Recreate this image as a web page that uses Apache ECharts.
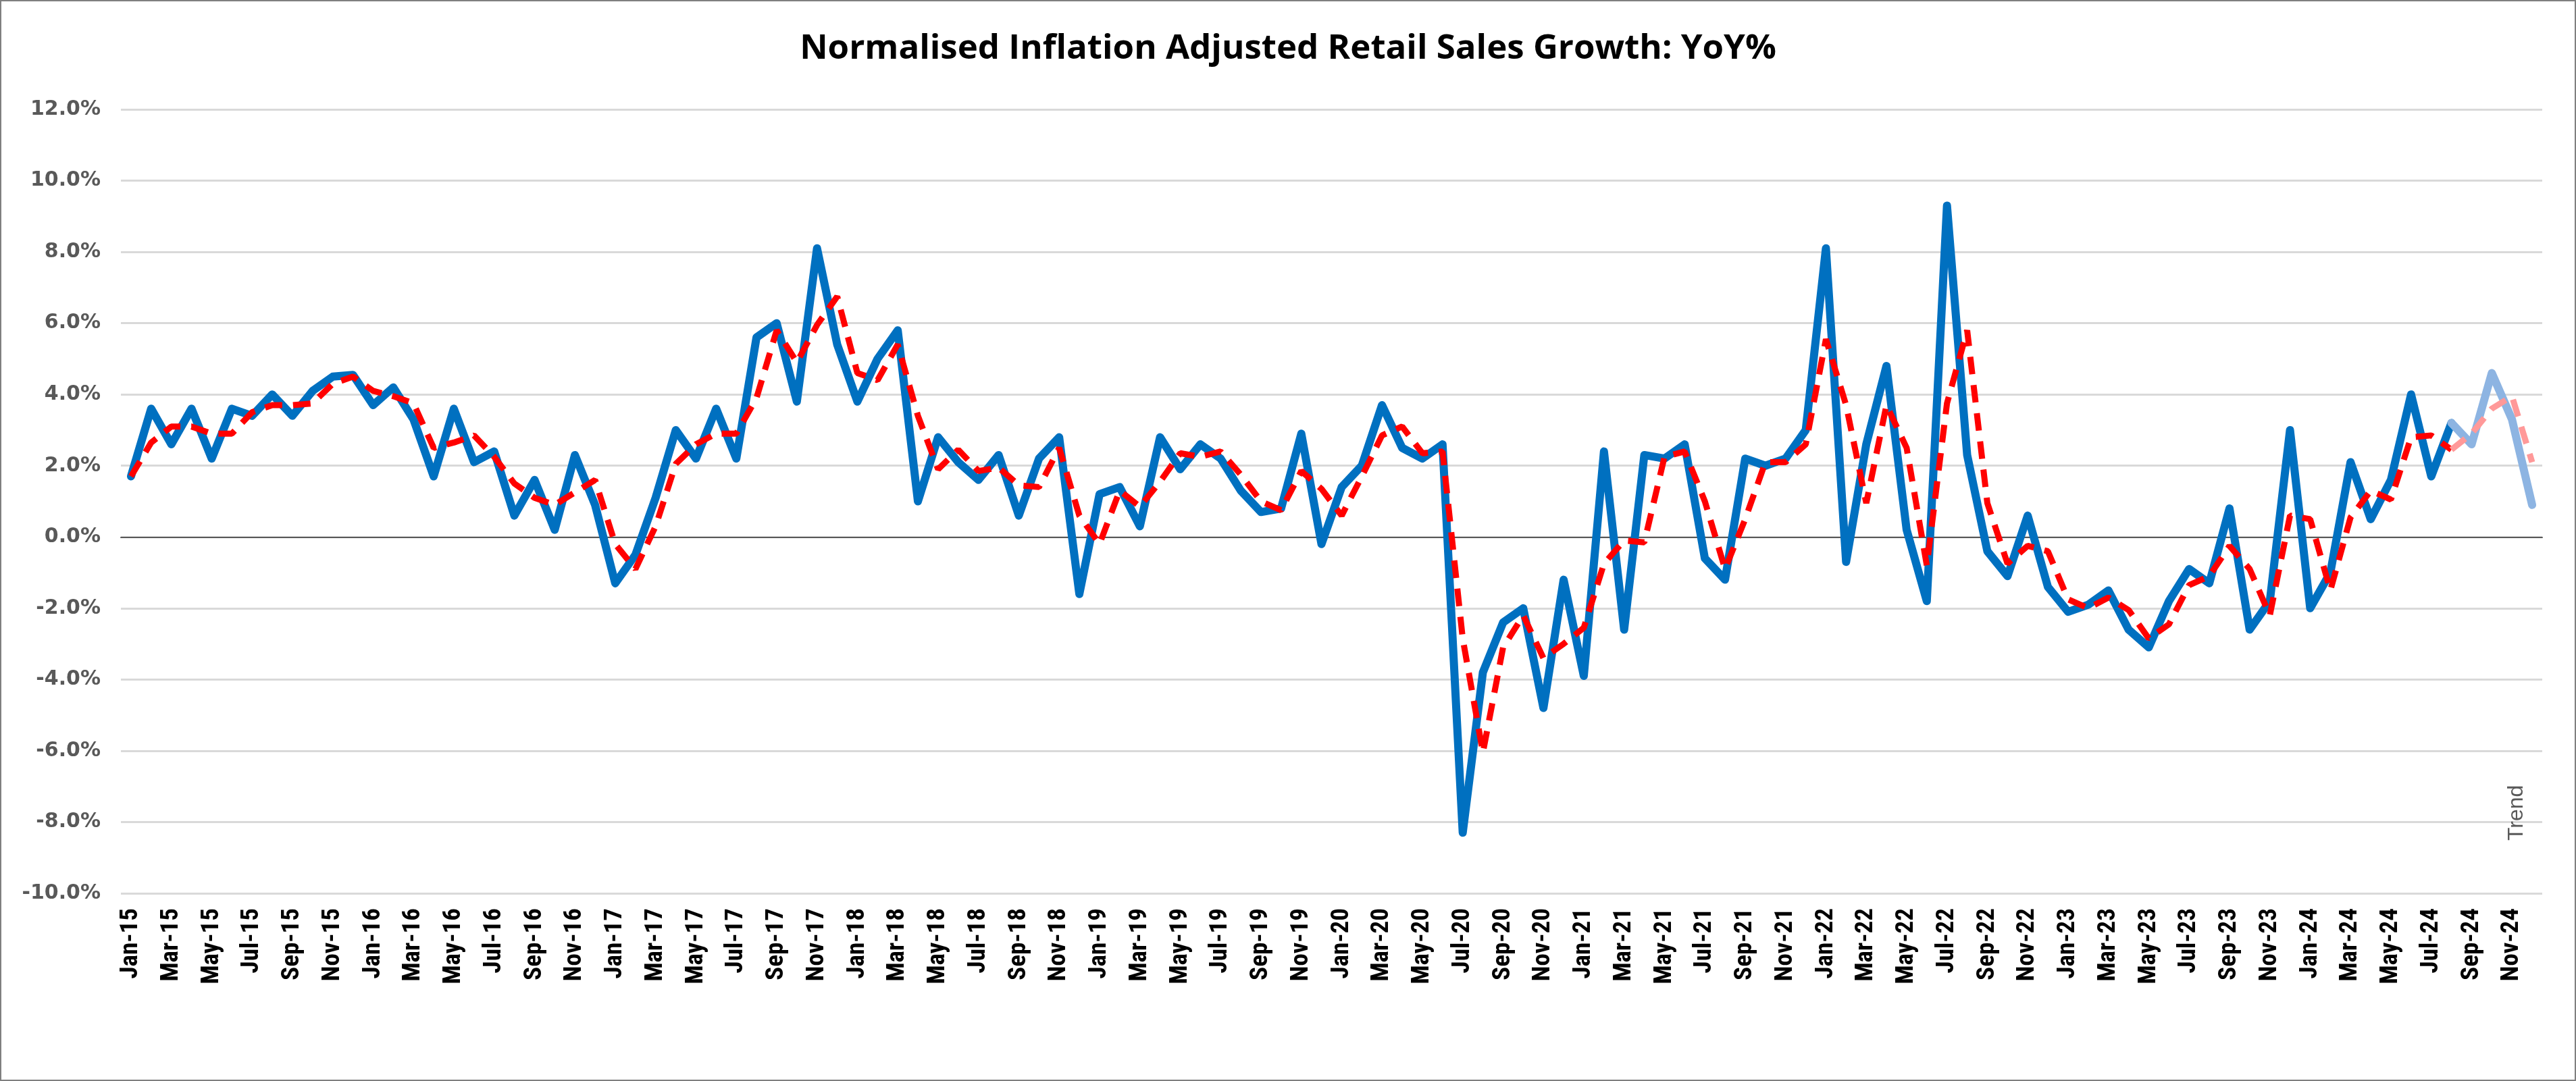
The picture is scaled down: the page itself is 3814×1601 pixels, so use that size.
<!DOCTYPE html>
<html><head><meta charset="utf-8">
<script src="https://cdn.jsdelivr.net/npm/echarts@6/dist/echarts.min.js"></script>
<style>html,body{margin:0;padding:0;background:#fff}#c{width:3814px;height:1601px;box-sizing:border-box;border:2px solid #7f7f7f}</style>
</head><body><div id="c"></div>
<script>
const months = ['Jan','Feb','Mar','Apr','May','Jun','Jul','Aug','Sep','Oct','Nov','Dec'];
const years = ['15','16','17','18','19','20','21','22','23','24'];
const categories = [];
years.forEach(y => months.forEach(m => categories.push(m + '-' + y)));

const sales = [
 1.7,3.6,2.6,3.6,2.2,3.6,3.4,4.0,3.4,4.1,4.5,4.55,
 3.7,4.2,3.3,1.7,3.6,2.1,2.4,0.6,1.6,0.2,2.3,0.9,
 -1.3,-0.5,1.1,3.0,2.2,3.6,2.2,5.6,6.0,3.8,8.1,5.4,
 3.8,5.0,5.8,1.0,2.8,2.1,1.6,2.3,0.6,2.2,2.8,-1.6,
 1.2,1.4,0.3,2.8,1.9,2.6,2.2,1.3,0.7,0.8,2.9,-0.2,
 1.4,2.0,3.7,2.5,2.2,2.6,-8.3,-3.8,-2.4,-2.0,-4.8,-1.2,
 -3.9,2.4,-2.6,2.3,2.2,2.6,-0.6,-1.2,2.2,2.0,2.2,3.0,
 8.1,-0.7,2.6,4.8,0.2,-1.8,9.3,2.3,-0.4,-1.1,0.6,-1.4,
 -2.1,-1.9,-1.5,-2.6,-3.1,-1.8,-0.9,-1.3,0.8,-2.6,-1.8,3.0,
 -2.0,-1.0,2.1,0.5,1.6,4.0,1.7,3.2,2.6,4.6,3.3,0.9
];
const trend = [
 1.7,2.65,3.1,3.1,2.9,2.9,3.5,3.7,3.7,3.75,4.3,4.5,
 4.1,3.95,3.75,2.5,2.65,2.85,2.25,1.5,1.1,0.9,1.25,1.6,
 -0.2,-0.9,0.3,2.05,2.6,2.9,2.9,3.9,5.8,4.9,5.95,6.75,
 4.6,4.4,5.4,3.4,1.9,2.45,1.85,1.95,1.45,1.4,2.5,0.6,
 -0.2,1.3,0.85,1.55,2.35,2.25,2.4,1.75,1.0,0.75,1.85,1.35,
 0.6,1.7,2.85,3.1,2.35,2.4,-2.85,-6.05,-3.1,-2.2,-3.4,-3.0,
 -2.55,-0.75,-0.1,-0.15,2.25,2.4,1.0,-0.9,0.5,2.1,2.1,2.6,
 5.55,3.7,0.95,3.7,2.5,-0.8,3.75,5.8,0.95,-0.75,-0.25,-0.4,
 -1.75,-2.0,-1.7,-2.05,-2.85,-2.45,-1.35,-1.1,-0.25,-0.9,-2.2,0.6,
 0.5,-1.5,0.55,1.3,1.05,2.8,2.85,2.45,2.9,3.6,3.95,2.1
];
const splitIndex = 115; // Aug-24: provisional segment starts here
const yTicks = {min: -10, max: 12, interval: 2};

const head = a => a.map((v,i) => i <= splitIndex ? v : null);
const tail = a => a.map((v,i) => i >= splitIndex ? v : null);

const chart = echarts.init(document.getElementById('c'));
chart.setOption({
  animation: false,
  title: {text: 'Normalised Inflation Adjusted Retail Sales Growth: YoY%', left: 'center', top: 40,
    textStyle: {fontFamily: 'Open Sans', fontWeight: 'bold', fontSize: 51, color: '#000'}},
  legend: {data: [{name: 'Trend', icon: 'path://M0,0 L1,0', itemStyle: {opacity: 0}}], bottom: 38, left: 'center',
    itemWidth: 95, itemHeight: 14, itemGap: 20,
    textStyle: {fontFamily: 'Liberation Sans', fontSize: 32, color: '#595959'}},
  grid: {left: 177, right: 48, top: 160, bottom: 276, containLabel: false},
  xAxis: {type: 'category', data: categories, boundaryGap: true,
    axisLine: {onZero: true, lineStyle: {color: '#595959', width: 2}},
    axisTick: {interval: 1, length: 10, lineStyle: {color: '#595959', width: 2}},
    axisLabel: {interval: 1, rotate: 90, margin: 22, color: '#000', fontWeight: 'bold',
      fontFamily: 'Liberation Sans Narrow, Roboto Condensed, Liberation Sans', fontSize: 37}
  },
  yAxis: {type: 'value', min: yTicks.min, max: yTicks.max, interval: yTicks.interval,
    axisLine: {show: false}, axisTick: {show: false},
    splitLine: {lineStyle: {color: '#d9d9d9', width: 3}},
    axisLabel: {formatter: v => v.toFixed(1) + '%', fontFamily: 'Verdana, DejaVu Sans', fontWeight: 'bold',
      fontSize: 30, color: '#595959', margin: 30}
  },
  series: [
    {name: 'Sales', type: 'line', data: head(sales), symbol: 'none', lineStyle: {color: '#0070C0', width: 12, join: 'round', cap: 'round'}, z: 2},
    {name: 'Sales provisional', type: 'line', data: tail(sales), symbol: 'none', lineStyle: {color: '#8DB4E2', width: 12, join: 'round', cap: 'round'}, z: 2},
    {name: 'Trend', type: 'line', data: head(trend), symbol: 'none', itemStyle: {color: '#FF0000'},
      lineStyle: {color: '#FF0000', width: 9, type: [26, 16]}, z: 3},
    {name: 'Trend provisional', type: 'line', data: tail(trend), symbol: 'none',
      lineStyle: {color: '#FF9999', width: 9, type: [26, 16]}, z: 3}
  ]
});
</script></body></html>
